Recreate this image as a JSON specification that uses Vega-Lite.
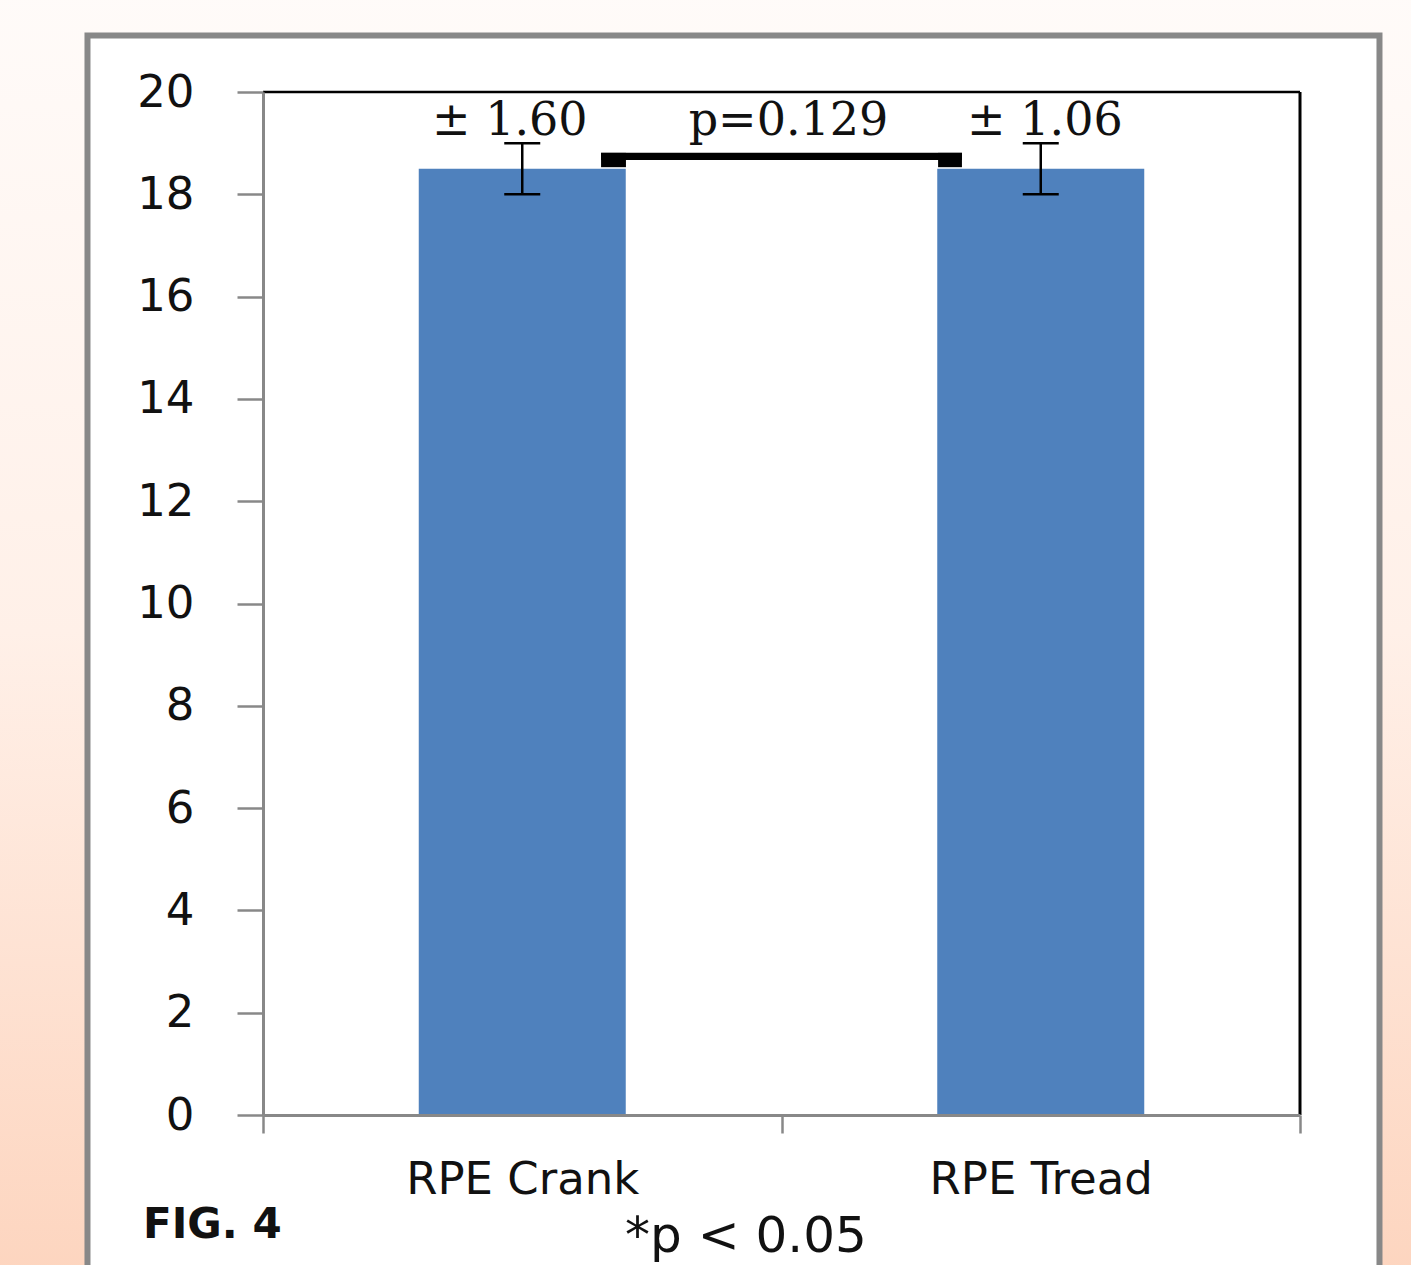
{
  "$schema": "https://vega.github.io/schema/vega-lite/v6.json",
  "width": 1037,
  "height": 1023,
  "autosize": {"type": "none"},
  "padding": {"left": 263, "top": 92, "right": 111, "bottom": 150},
  "background": "#fff6f1",
  "config": {"view": {"stroke": null}},
  "datasets": {
    "one": [{}],
    "bars": [
      {"condition": "RPE Crank", "pos": 0.5, "mean": 18.5, "lo": 18, "hi": 19},
      {"condition": "RPE Tread", "pos": 1.5, "mean": 18.5, "lo": 18, "hi": 19}
    ],
    "bracket": [
      {"xa": 0.652, "xb": 1.348, "ya": 18.67, "yb": 18.81},
      {"xa": 0.652, "xb": 0.7, "ya": 18.53, "yb": 18.81},
      {"xa": 1.302, "xb": 1.348, "ya": 18.53, "yb": 18.81}
    ],
    "notes": [
      {"x": 0.476, "y": 19.16, "label": "± 1.60"},
      {"x": 1.0135, "y": 19.16, "label": "p=0.129"},
      {"x": 1.508, "y": 19.16, "label": "± 1.06"}
    ],
    "foot": [
      {"x": 0.9315, "y": -2.678, "label": "*p < 0.05"}
    ],
    "fig": [
      {"x": -0.2314, "y": -2.405, "label": "FIG. 4"}
    ]
  },
  "layer": [
    {
      "data": {"name": "one"},
      "mark": {
        "type": "rect",
        "fill": {
          "gradient": "linear", "x1": 0, "y1": 0, "x2": 0, "y2": 1,
          "stops": [
            {"offset": 0, "color": "#fffbf9"},
            {"offset": 0.5, "color": "#fff0e8"},
            {"offset": 1, "color": "#fdd5bf"}
          ]
        }
      },
      "encoding": {
        "x": {"datum": -0.53, "type": "quantitative", "scale": {"domain": [0, 2], "nice": false, "zero": false, "padding": 0}, "axis": {
          "values": [0, 0.5, 1, 1.5, 2],
          "labelExpr": "datum.value == 0.5 ? 'RPE Crank' : datum.value == 1.5 ? 'RPE Tread' : ''",
          "tickOpacity": {"condition": {"test": "datum.value == 0.5 || datum.value == 1.5", "value": 0}, "value": 1},
          "domainColor": "#888888", "domainWidth": 3,
          "tickColor": "#888888", "tickWidth": 2.5, "tickSize": 18,
          "labelFont": "DejaVu Sans", "labelFontSize": 45, "labelColor": "#111111",
          "labelBaseline": "alphabetic", "labelPadding": 60, "labelLimit": 0,
          "labelFlush": false, "labelOverlap": false,
          "grid": false, "title": null, "zindex": 1
        }},
        "x2": {"datum": 2.24},
        "y": {"datum": 22, "type": "quantitative", "scale": {"domain": [0, 20], "nice": false, "zero": false, "padding": 0}, "axis": {
          "values": [0, 2, 4, 6, 8, 10, 12, 14, 16, 18, 20],
          "domainColor": "#888888", "domainWidth": 3,
          "tickColor": "#888888", "tickWidth": 2.5, "tickSize": 26,
          "labelFont": "DejaVu Sans", "labelFontSize": 45, "labelColor": "#111111",
          "labelPadding": 43, "labelFlush": false, "labelOverlap": false, "labelLimit": 0,
          "grid": false, "title": null, "zindex": 1
        }},
        "y2": {"datum": -3.1}
      }
    },
    {
      "data": {"name": "one"},
      "mark": {"type": "rect", "fill": "#ffffff", "stroke": "#888888", "strokeWidth": 6},
      "encoding": {
        "x": {"datum": -0.3385, "type": "quantitative"},
        "x2": {"datum": 2.1533},
        "y": {"datum": 21.105, "type": "quantitative"},
        "y2": {"datum": -3.3}
      }
    },
    {
      "data": {"name": "bars"},
      "mark": {"type": "bar", "orient": "vertical", "width": 207, "color": "#4f81bd"},
      "encoding": {
        "x": {"field": "pos", "type": "quantitative"},
        "y": {"field": "mean", "type": "quantitative"},
        "y2": {"datum": 0}
      }
    },
    {
      "data": {"name": "bars"},
      "mark": {"type": "rule", "color": "#000000", "strokeWidth": 2.5},
      "encoding": {
        "x": {"field": "pos", "type": "quantitative"},
        "y": {"field": "lo", "type": "quantitative"},
        "y2": {"field": "hi"}
      }
    },
    {
      "data": {"name": "bars"},
      "mark": {"type": "tick", "orient": "horizontal", "size": 36, "thickness": 2.5, "color": "#000000", "opacity": 1},
      "encoding": {
        "x": {"field": "pos", "type": "quantitative"},
        "y": {"field": "lo", "type": "quantitative"}
      }
    },
    {
      "data": {"name": "bars"},
      "mark": {"type": "tick", "orient": "horizontal", "size": 36, "thickness": 2.5, "color": "#000000", "opacity": 1},
      "encoding": {
        "x": {"field": "pos", "type": "quantitative"},
        "y": {"field": "hi", "type": "quantitative"}
      }
    },
    {
      "data": {"name": "bracket"},
      "mark": {"type": "rect", "color": "#000000"},
      "encoding": {
        "x": {"field": "xa", "type": "quantitative"},
        "x2": {"field": "xb"},
        "y": {"field": "ya", "type": "quantitative"},
        "y2": {"field": "yb"}
      }
    },
    {
      "data": {"name": "one"},
      "mark": {"type": "rule", "color": "#000000", "strokeWidth": 2.5},
      "encoding": {
        "x": {"datum": 0, "type": "quantitative"},
        "x2": {"datum": 2},
        "y": {"datum": 20, "type": "quantitative"}
      }
    },
    {
      "data": {"name": "one"},
      "mark": {"type": "rule", "color": "#000000", "strokeWidth": 3},
      "encoding": {
        "x": {"datum": 2, "type": "quantitative"},
        "y": {"datum": 0, "type": "quantitative"},
        "y2": {"datum": 20}
      }
    },
    {
      "data": {"name": "notes"},
      "mark": {"type": "text", "font": "DejaVu Serif", "fontSize": 46, "baseline": "alphabetic", "align": "center", "color": "#111111"},
      "encoding": {
        "x": {"field": "x", "type": "quantitative"},
        "y": {"field": "y", "type": "quantitative"},
        "text": {"field": "label"}
      }
    },
    {
      "data": {"name": "foot"},
      "mark": {"type": "text", "font": "DejaVu Sans", "fontSize": 50, "baseline": "alphabetic", "align": "center", "color": "#111111"},
      "encoding": {
        "x": {"field": "x", "type": "quantitative"},
        "y": {"field": "y", "type": "quantitative"},
        "text": {"field": "label"}
      }
    },
    {
      "data": {"name": "fig"},
      "mark": {"type": "text", "font": "DejaVu Sans", "fontSize": 42, "fontWeight": "bold", "baseline": "alphabetic", "align": "left", "color": "#111111"},
      "encoding": {
        "x": {"field": "x", "type": "quantitative"},
        "y": {"field": "y", "type": "quantitative"},
        "text": {"field": "label"}
      }
    }
  ]
}
